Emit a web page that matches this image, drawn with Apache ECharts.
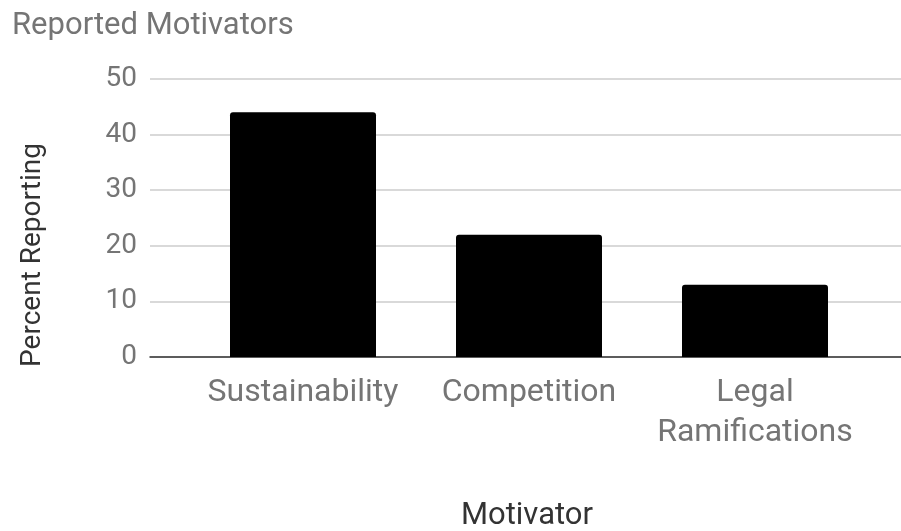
<!DOCTYPE html>
<html>
<head>
<meta charset="utf-8">
<script src="https://cdn.jsdelivr.net/npm/echarts@6/dist/echarts.min.js"></script>
<style>
  html, body { margin: 0; padding: 0; background: #fff; }
  #chart { width: 901px; height: 531px; }
</style>
</head>
<body>
<div id="chart"></div>
<script>
// Survey results: share of respondents naming each motivator
const categories = ['Sustainability', 'Competition', 'Legal Ramifications'];
const percentReporting = [44, 22, 13];
const yTicks = [0, 10, 20, 30, 40, 50];

const titleText = 'Reported Motivators';
const xAxisTitle = 'Motivator';
const yAxisTitle = 'Percent Reporting';

const FONT = 'Roboto, "Noto Sans", sans-serif';
const GREY = '#757575';
const yMin = yTicks[0];
const yMax = yTicks[yTicks.length - 1];
const yStep = yTicks[1] - yTicks[0];

const chart = echarts.init(document.getElementById('chart'), null, { renderer: 'canvas' });

chart.setOption({
  animation: false,
  backgroundColor: '#ffffff',
  textStyle: { fontFamily: FONT },
  title: {
    text: titleText,
    left: 12,
    top: 11,
    padding: 0,
    textStyle: { fontFamily: FONT, fontSize: 31, fontWeight: 'normal', color: GREY }
  },
  grid: [
    // full-width frame: gridlines, value labels and baseline
    { left: 150, right: 0, top: 79, height: 278 },
    // bar area
    { left: 190, width: 678, top: 79, height: 278 }
  ],
  xAxis: [
    {
      gridIndex: 0, type: 'value', min: 0, max: 1,
      axisLine: { show: true, onZero: false, lineStyle: { color: '#333333', width: 1.5 } },
      axisTick: { show: false }, axisLabel: { show: false }, splitLine: { show: false }
    },
    {
      gridIndex: 1, type: 'category', data: categories,
      axisLine: { show: false }, axisTick: { show: false },
      axisLabel: {
        interval: 0,
        hideOverlap: false,
        margin: 16,
        fontFamily: FONT, fontSize: 32, color: GREY, lineHeight: 40,
        formatter: v => v.replace(' ', '\n')
      }
    }
  ],
  yAxis: [
    {
      gridIndex: 0, type: 'value', min: yMin, max: yMax, interval: yStep,
      axisLine: { show: false }, axisTick: { show: false },
      axisLabel: { margin: 13, fontFamily: FONT, fontSize: 28, color: GREY },
      splitLine: { show: true, lineStyle: { color: '#cccccc', width: 1.5 } }
    },
    {
      gridIndex: 1, type: 'value', min: yMin, max: yMax, interval: yStep,
      show: false, splitLine: { show: false }
    }
  ],
  series: [
    {
      type: 'bar',
      xAxisIndex: 1,
      yAxisIndex: 1,
      data: percentReporting,
      barWidth: 146,
      itemStyle: { color: '#000000', borderRadius: [3, 3, 0, 0] }
    }
  ],
  graphic: [
    {
      type: 'text',
      x: 527, y: 516,
      style: {
        text: xAxisTitle, align: 'center', verticalAlign: 'middle',
        fontFamily: FONT, fontSize: 31, fill: '#333333'
      }
    },
    {
      type: 'text',
      x: 33, y: 255, rotation: Math.PI / 2,
      style: {
        text: yAxisTitle, align: 'center', verticalAlign: 'middle',
        fontFamily: FONT, fontSize: 28, fill: '#333333'
      }
    }
  ]
});
</script>
</body>
</html>
